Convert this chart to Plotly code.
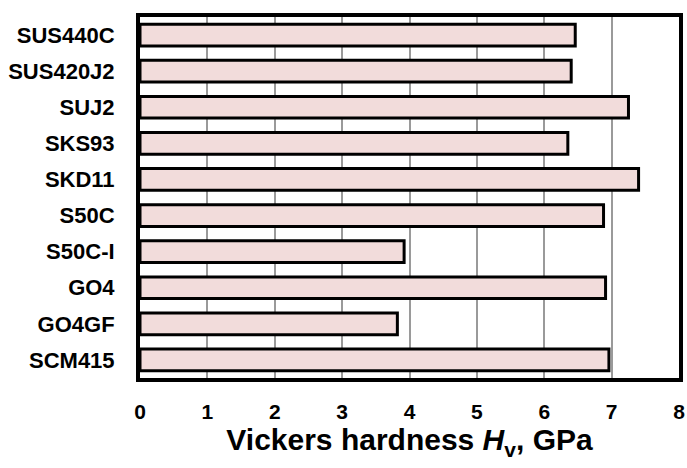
import plotly.graph_objects as go

materials = ["SUS440C", "SUS420J2", "SUJ2", "SKS93", "SKD11", "S50C", "S50C-I", "GO4", "GO4GF", "SCM415"]
hardness = [6.46, 6.40, 7.25, 6.35, 7.40, 6.88, 3.92, 6.91, 3.82, 6.96]
x_ticks = [0, 1, 2, 3, 4, 5, 6, 7, 8]

font_family = "Liberation Sans, Arial, sans-serif"

fig = go.Figure()
fig.add_trace(go.Bar(
    x=hardness,
    y=materials,
    orientation="h",
    width=0.6,
    marker=dict(color="#f2dcdb", line=dict(color="black", width=3)),
))

fig.update_layout(
    width=687, height=468,
    margin=dict(l=140, r=8, t=17, b=90),
    paper_bgcolor="white",
    plot_bgcolor="white",
    showlegend=False,
    font=dict(family=font_family, color="black"),
    xaxis=dict(
        range=[0, 8],
        automargin=False,
        tickvals=x_ticks,
        ticktext=[str(v) for v in x_ticks],
        tickfont=dict(size=21, family=font_family, weight="bold"),
        showgrid=True, gridcolor="#9a9a9a", gridwidth=2,
        zeroline=False,
        showline=True, linecolor="black", linewidth=4, mirror=True,
        ticks="", ticklabelstandoff=12,
        title=dict(text="<b>Vickers hardness <i>H</i><sub>v</sub>, GPa</b>",
                   font=dict(size=30, family=font_family), standoff=6),
    ),
    yaxis=dict(
        autorange="reversed",
        automargin=False,
        tickfont=dict(size=22, family=font_family, weight="bold"),
        showgrid=False,
        showline=True, linecolor="black", linewidth=4, mirror=True,
        ticks="", ticklabelstandoff=17,
    ),
)

fig.write_html("out.html", config={"displayModeBar": False},
               post_script="document.body.style.margin='0';")
